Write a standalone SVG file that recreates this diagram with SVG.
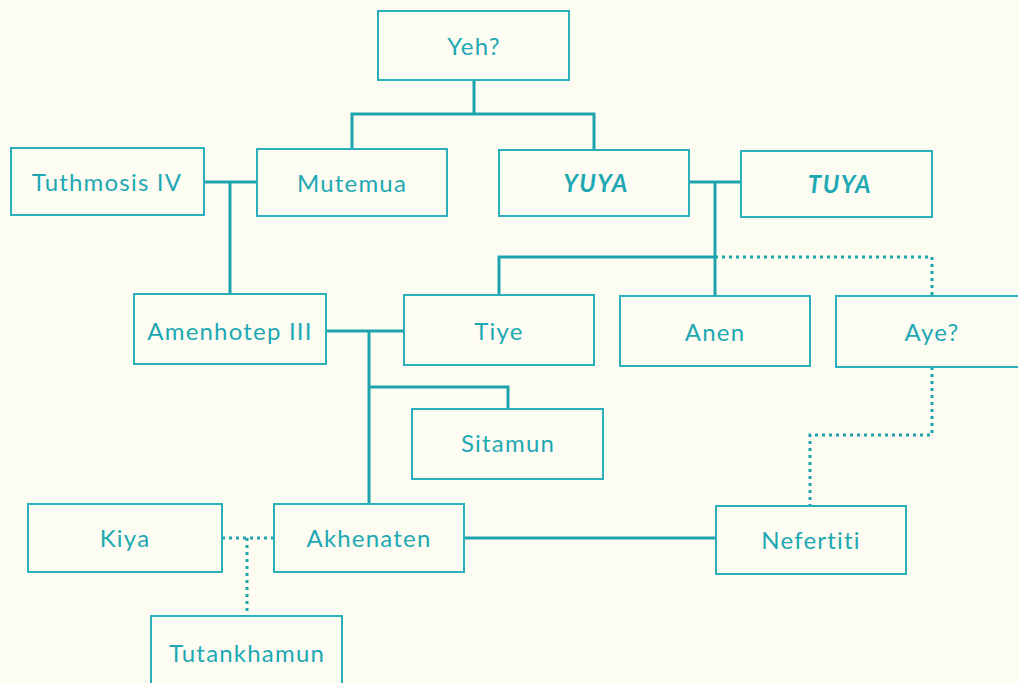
<svg xmlns="http://www.w3.org/2000/svg" width="1018" height="683" viewBox="0 0 1018 683">
<style>
.bg{fill:#fdfcf2}
.box{fill:none;stroke:#2ab0ba;stroke-width:2}
.lbl{font-family:Lato,"Open Sans",sans-serif;font-size:24px;letter-spacing:1.2px;font-variant-ligatures:none;fill:#1ea8b3;text-anchor:middle;dominant-baseline:central}
.it{font-style:italic;font-weight:bold;letter-spacing:1.5px}
.ln{fill:none;stroke:#1ea3ad;stroke-width:3}
.dot{fill:none;stroke:#1ea3ad;stroke-width:3;stroke-dasharray:3 4}
</style>
<rect class="bg" x="0" y="0" width="1018" height="683"/>
<g id="connectors">
<path class="ln" d="M474 80V114M352 149V114H594V149"/>
<path class="ln" d="M204 182H257M230 182V294"/>
<path class="ln" d="M689 182H741M715 182V296M499 295V257H715"/>
<path class="dot" d="M715 257H932V295"/>
<path class="ln" d="M326 331H404M369 331V504M369 387H508V409"/>
<path class="dot" d="M932 367V435H810V506"/>
<path class="ln" d="M464 538H716"/>
<path class="dot" d="M222 538H274M247 538V616"/>
</g>
<g id="yeh"><rect class="box" x="378" y="11" width="191" height="69"/><text class="lbl" x="474" y="45">Yeh?</text></g>
<g id="tuthmosis"><rect class="box" x="11" y="148" width="193" height="67"/><text class="lbl" x="107" y="181">Tuthmosis IV</text></g>
<g id="mutemua"><rect class="box" x="257" y="149" width="190" height="67"/><text class="lbl" x="352" y="182">Mutemua</text></g>
<g id="yuya"><rect class="box" x="499" y="150" width="190" height="66"/><text class="lbl it" x="596" y="182">YUYA</text></g>
<g id="tuya"><rect class="box" x="741" y="151" width="191" height="66"/><text class="lbl it" x="840" y="183">TUYA</text></g>
<g id="amenhotep"><rect class="box" x="134" y="294" width="192" height="70"/><text class="lbl" x="230" y="330">Amenhotep III</text></g>
<g id="tiye"><rect class="box" x="404" y="295" width="190" height="70"/><text class="lbl" x="499" y="330">Tiye</text></g>
<g id="anen"><rect class="box" x="620" y="296" width="190" height="70"/><text class="lbl" x="715" y="331">Anen</text></g>
<g id="aye"><rect class="box" x="836" y="296" width="192" height="71"/><text class="lbl" x="932" y="331">Aye?</text></g>
<g id="sitamun"><rect class="box" x="412" y="409" width="191" height="70"/><text class="lbl" x="508" y="442">Sitamun</text></g>
<g id="kiya"><rect class="box" x="28" y="504" width="194" height="68"/><text class="lbl" x="125" y="537">Kiya</text></g>
<g id="akhenaten"><rect class="box" x="274" y="504" width="190" height="68"/><text class="lbl" x="369" y="537">Akhenaten</text></g>
<g id="nefertiti"><rect class="box" x="716" y="506" width="190" height="68"/><text class="lbl" x="811" y="539">Nefertiti</text></g>
<g id="tutankhamun"><rect class="box" x="151" y="616" width="191" height="80"/><text class="lbl" x="247" y="652">Tutankhamun</text></g>
</svg>
